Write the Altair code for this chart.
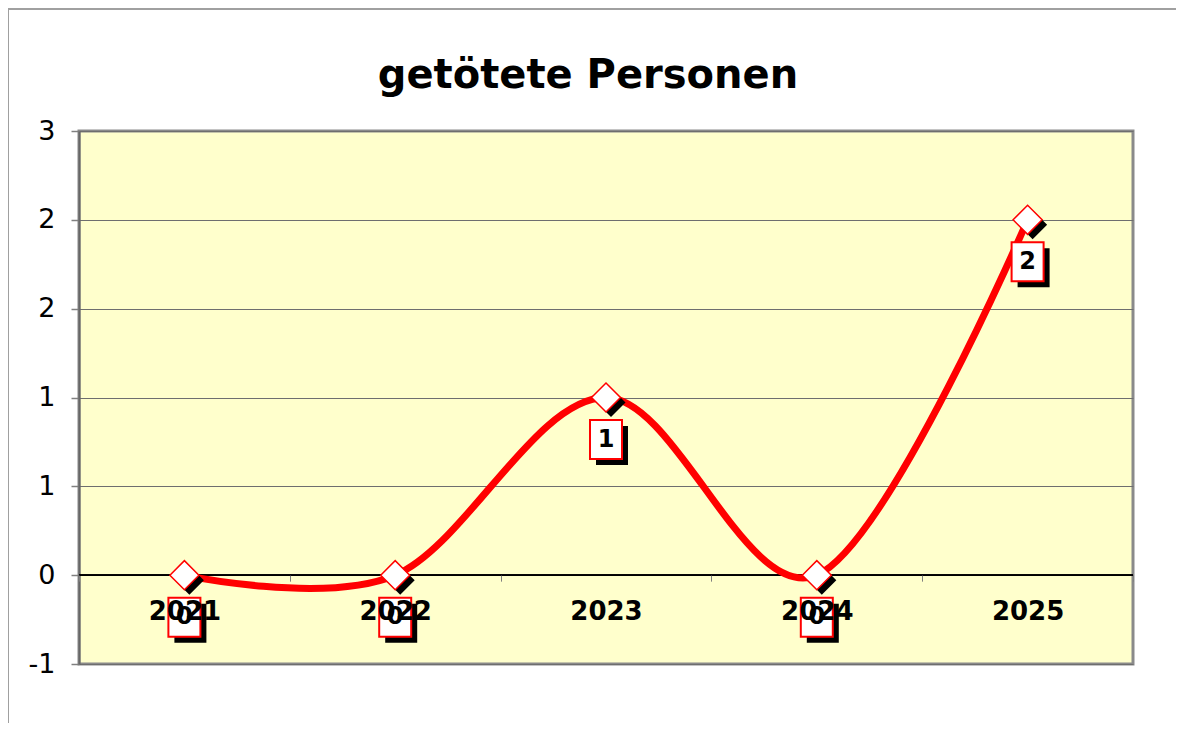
import altair as alt
import pandas as pd

years = ["2021", "2022", "2023", "2024", "2025"]
values = [0, 0, 1, 0, 2]
y_ticks = [-0.5, 0, 0.5, 1, 1.5, 2, 2.5]

df = pd.DataFrame({"year": years, "value": values})

RECT = "M-0.8205,-1H0.8205V1H-0.8205Z"

x_enc = alt.X(
    "year:N",
    sort=years,
    bandPosition=0.5,
    scale=alt.Scale(type="band", paddingInner=0, paddingOuter=0),
    axis=alt.Axis(
        title=None,
        labelAngle=0,
        tickBand="extent",
        offset=-88.83,
        domain=False,
        ticks=True,
        tickColor="#808080",
        tickSize=6,
        tickWidth=1,
        labelFont="DejaVu Sans",
        labelFontWeight="bold",
        labelFontSize=26,
        labelColor="black",
        labelBaseline="middle",
        labelPadding=30,
        grid=False,
        zindex=1,
    ),
)
y_enc = alt.Y(
    "value:Q",
    scale=alt.Scale(domain=[-0.5, 2.5], nice=False, zero=False),
    axis=alt.Axis(
        title=None,
        values=y_ticks,
        labelExpr="datum.value < 0 ? '-1' : format(round(datum.value), 'd')",
        labelFont="DejaVu Sans",
        labelFontSize=27,
        labelColor="black",
        labelPadding=16,
        tickColor="#808080",
        tickSize=8,
        tickWidth=1.5,
        domain=True,
        domainColor="#666666",
        domainWidth=2,
        grid=True,
        gridColor="#6e6e6e",
        gridWidth=1,
    ),
)

base = alt.Chart(df).encode(x=x_enc, y=y_enc)

zero_rule = alt.Chart(df).mark_rule(color="black", strokeWidth=1.3).encode(y=alt.datum(0))

line = base.mark_line(color="#FF0000", strokeWidth=7, interpolate="cardinal")

diamond_shadow = base.mark_point(
    shape="diamond", size=841, filled=True, color="black", opacity=1, xOffset=5, yOffset=5
)
diamond = base.mark_point(
    shape="diamond", size=841, filled=True, fill="white", stroke="#FF0000",
    strokeWidth=1.5, opacity=1
)
box_shadow = base.mark_point(
    shape=RECT, size=1521, filled=True, color="black", opacity=1, xOffset=6, yOffset=48
)
box = base.mark_point(
    shape=RECT, size=1521, filled=True, fill="white", stroke="#FF0000",
    strokeWidth=2, opacity=1, yOffset=42
)
label = base.mark_text(
    font="DejaVu Sans", fontWeight="bold", fontSize=24, color="black",
    baseline="middle", yOffset=42
).encode(text="value:Q")

border_top = alt.Chart(df).mark_rule(color="#a0a0a0", strokeWidth=1.5).encode(
    x=alt.value(-71), x2=alt.value(1200), y=alt.value(-122)
)
border_left = alt.Chart(df).mark_rule(color="#a0a0a0", strokeWidth=1.5).encode(
    x=alt.value(-71), y=alt.value(-122), y2=alt.value(700)
)

chart = alt.layer(
    zero_rule, line, diamond_shadow, diamond, box_shadow, box, label, border_top, border_left
).properties(
    width=1054,
    height=533,
    background="white",
    autosize=alt.AutoSizeParams(type="none"),
    padding={"left": 71, "top": 123, "right": 43, "bottom": 59},
    title=alt.TitleParams(
        "getötete Personen",
        font="DejaVu Sans",
        fontSize=40,
        fontWeight="bold",
        color="black",
        anchor="middle",
        frame="group",
        baseline="alphabetic",
        dx=-18,
        offset=-120,
    ),
).configure_view(
    fill="#FFFFCC", stroke="#8a8a8a", strokeWidth=3
)

chart.save("out.html", embed_options={"renderer": "svg", "actions": False})
